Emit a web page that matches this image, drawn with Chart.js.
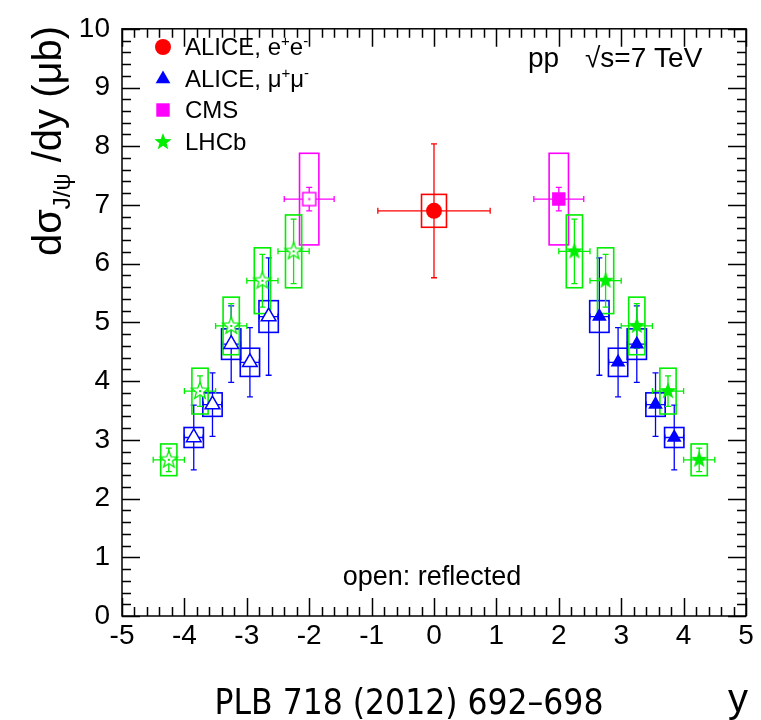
<!DOCTYPE html>
<html>
<head>
<meta charset="utf-8">
<script src="https://cdn.jsdelivr.net/npm/chart.js@4.4.0/dist/chart.umd.min.js"></script>
<style>
  html, body { margin: 0; padding: 0; background: #fff; }
  #wrap { width: 761px; height: 720px; }
</style>
</head>
<body>
<div id="wrap"><canvas id="chart" width="761" height="720"></canvas></div>
<script>
// ALICE e+e-, |y|<0.9
const eeY = [0];
const eeVal = [6.90];
const eeStat = [1.14];
const eeSyst = [0.28];
const eeHalfBin = [0.9];

// ALICE mu+mu-, forward
const mmY = [2.65, 2.95, 3.25, 3.55, 3.85];
const mmVal = [5.10, 4.32, 4.63, 3.60, 3.04];
const mmStat = [1.00, 0.59, 0.65, 0.54, 0.55];
const mmSyst = [0.27, 0.24, 0.26, 0.20, 0.17];
const mmHalfBin = [0.15, 0.15, 0.15, 0.15, 0.15];

// CMS
const cmsY = [2.0];
const cmsVal = [7.10];
const cmsStat = [0.20];
const cmsSyst = [0.78];
const cmsHalfBin = [0.4];

// LHCb
const lhcbY = [2.25, 2.75, 3.25, 3.75, 4.25];
const lhcbVal = [6.21, 5.71, 4.94, 3.83, 2.66];
const lhcbStat = [0.55, 0.45, 0.38, 0.26, 0.20];
const lhcbSyst = [0.62, 0.56, 0.49, 0.39, 0.27];
const lhcbHalfBin = [0.25, 0.25, 0.25, 0.25, 0.25];

// axis ticks
const xTicks = [-5, -4, -3, -2, -1, 0, 1, 2, 3, 4, 5];
const xTickLabels = ['-5', '-4', '-3', '-2', '-1', '0', '1', '2', '3', '4', '5'];
const yTicks = [0, 1, 2, 3, 4, 5, 6, 7, 8, 9, 10];
const yTickLabels = ['0', '1', '2', '3', '4', '5', '6', '7', '8', '9', '10'];

const FONT = "'Liberation Sans', Arial, sans-serif";

// little marker images (star and open square are not built into Chart.js)
function starImage(color, filled, R) {
    const c = document.createElement('canvas');
    const s = Math.ceil(2 * R + 4);
    c.width = s; c.height = s;
    const g = c.getContext('2d');
    const cx = s / 2, cy = s / 2;
    g.beginPath();
    for (let i = 0; i < 10; i++) {
        const r = i % 2 === 0 ? R : R * 0.42;
        const a = -Math.PI / 2 + i * Math.PI / 5;
        const px = cx + r * Math.cos(a), py = cy + r * Math.sin(a);
        if (i === 0) g.moveTo(px, py); else g.lineTo(px, py);
    }
    g.closePath();
    if (filled) {
        g.fillStyle = color; g.fill();
    } else {
        g.fillStyle = '#fff'; g.fill();
        g.strokeStyle = color; g.lineWidth = 1.3; g.stroke();
        g.fillStyle = color; g.fillRect(cx - 1, cy - 1, 2, 2);
    }
    return c;
}

function openSquareImage(color, half) {
    const c = document.createElement('canvas');
    const s = Math.ceil(2 * half + 4);
    c.width = s; c.height = s;
    const g = c.getContext('2d');
    const o = (s - 2 * half) / 2;
    g.fillStyle = '#fff';
    g.fillRect(o, o, 2 * half, 2 * half);
    g.strokeStyle = color; g.lineWidth = 1.5;
    g.strokeRect(o, o, 2 * half, 2 * half);
    g.fillStyle = color; g.fillRect(s / 2 - 1, s / 2 - 1, 2, 2);
    return c;
}

const series = [
    { label: 'ee', y: eeY, val: eeVal, stat: eeStat, syst: eeSyst, hb: eeHalfBin,
      color: '#ff0000', boxW: 0.2, reflect: false,
      marker: { pointStyle: 'circle', radius: 8 }, openMarker: null },
    { label: 'mm', y: mmY, val: mmVal, stat: mmStat, syst: mmSyst, hb: mmHalfBin,
      color: '#0000ff', boxW: 0.155, reflect: true,
      marker: { pointStyle: 'triangle', radius: 8.5 },
      openMarker: { pointStyle: 'triangle', radius: 8.5, open: true } },
    { label: 'cms', y: cmsY, val: cmsVal, stat: cmsStat, syst: cmsSyst, hb: cmsHalfBin,
      color: '#ff00ff', boxW: 0.155, reflect: true,
      marker: { pointStyle: 'rect', radius: 9.5 },
      openMarker: { pointStyle: openSquareImage('#ff00ff', 6.5), radius: 7 } },
    { label: 'lhcb', y: lhcbY, val: lhcbVal, stat: lhcbStat, syst: lhcbSyst, hb: lhcbHalfBin,
      color: '#00ee00', boxW: 0.13, reflect: true,
      marker: { pointStyle: starImage('#00ee00', true, 9), radius: 9 },
      openMarker: { pointStyle: starImage('#00ee00', false, 9), radius: 9 } }
];

const datasets = [];
series.forEach(s => {
    datasets.push({
        data: s.y.map((x, i) => ({ x: x, y: s.val[i] })),
        pointStyle: s.marker.pointStyle,
        pointRadius: s.marker.radius,
        backgroundColor: s.color,
        borderColor: s.color,
        pointBorderWidth: 0
    });
    if (s.reflect) {
        datasets.push({
            data: s.y.map((x, i) => ({ x: -x, y: s.val[i] })),
            pointStyle: s.openMarker.pointStyle,
            pointRadius: s.openMarker.radius,
            backgroundColor: '#ffffff',
            borderColor: s.color,
            pointBorderWidth: s.openMarker.open ? 1.5 : 0
        });
    }
});

// boxes (syst) and error bars (stat) under the markers
const errorBars = {
    id: 'errorBars',
    beforeDatasetsDraw(chart) {
        const ctx = chart.ctx;
        const xs = chart.scales.x, ys = chart.scales.y;
        ctx.save();
        series.forEach(s => {
            const sides = s.reflect ? [1, -1] : [1];
            sides.forEach(sign => {
                s.y.forEach((yy, i) => {
                    const x = sign * yy;
                    const v = s.val[i];
                    ctx.strokeStyle = s.color;
                    ctx.lineWidth = 1.6;
                    // systematic box
                    const bx0 = xs.getPixelForValue(x - s.boxW), bx1 = xs.getPixelForValue(x + s.boxW);
                    const by0 = ys.getPixelForValue(v + s.syst[i]), by1 = ys.getPixelForValue(v - s.syst[i]);
                    ctx.strokeRect(bx0, by0, bx1 - bx0, by1 - by0);
                    // stat error bars with caps
                    ctx.lineWidth = 1.3;
                    const px = xs.getPixelForValue(x), py = ys.getPixelForValue(v);
                    const t = ys.getPixelForValue(v + s.stat[i]), b = ys.getPixelForValue(v - s.stat[i]);
                    const l = xs.getPixelForValue(x - s.hb[i]), r = xs.getPixelForValue(x + s.hb[i]);
                    ctx.beginPath();
                    ctx.moveTo(px, t); ctx.lineTo(px, b);
                    ctx.moveTo(px - 3, t); ctx.lineTo(px + 3, t);
                    ctx.moveTo(px - 3, b); ctx.lineTo(px + 3, b);
                    ctx.moveTo(l, py); ctx.lineTo(r, py);
                    ctx.moveTo(l, py - 3); ctx.lineTo(l, py + 3);
                    ctx.moveTo(r, py - 3); ctx.lineTo(r, py + 3);
                    ctx.stroke();
                });
            });
        });
        ctx.restore();
    }
};

function drawRuns(ctx, runs, x, y, align) {
    let w = 0;
    runs.forEach(r => { ctx.font = r.size + 'px ' + (r.family || FONT); w += ctx.measureText(r.t).width; });
    let cx = align === 'center' ? x - w / 2 : (align === 'right' ? x - w : x);
    ctx.textAlign = 'left';
    ctx.textBaseline = 'alphabetic';
    runs.forEach(r => {
        ctx.font = r.size + 'px ' + (r.family || FONT);
        ctx.fillText(r.t, cx, y + (r.dy || 0));
        cx += ctx.measureText(r.t).width;
    });
}

// frame, inward ticks, legend, labels
const decorations = {
    id: 'decorations',
    afterDraw(chart) {
        const ctx = chart.ctx;
        const a = chart.chartArea;
        const xs = chart.scales.x, ys = chart.scales.y;
        ctx.save();
        ctx.strokeStyle = '#000';
        ctx.lineWidth = 1.5;
        ctx.strokeRect(a.left, a.top, a.right - a.left, a.bottom - a.top);
        ctx.beginPath();
        for (let v = -5; v <= 5.0001; v += 0.2) {
            const major = Math.abs(v - Math.round(v)) < 1e-6;
            const len = major ? 18 : 9;
            const px = Math.round(xs.getPixelForValue(v)) + 0.5;
            ctx.moveTo(px, a.bottom); ctx.lineTo(px, a.bottom - len);
            ctx.moveTo(px, a.top); ctx.lineTo(px, a.top + len);
        }
        for (let v = 0; v <= 10.0001; v += 0.2) {
            const major = Math.abs(v - Math.round(v)) < 1e-6;
            const len = major ? 18 : 9;
            const py = Math.round(ys.getPixelForValue(v)) + 0.5;
            ctx.moveTo(a.left, py); ctx.lineTo(a.left + len, py);
            ctx.moveTo(a.right, py); ctx.lineTo(a.right - len, py);
        }
        ctx.stroke();

        // legend
        ctx.fillStyle = '#000';
        const rows = [
            { s: series[0], y: 47, runs: [{ t: 'ALICE, e', size: 24 }, { t: '+', size: 15, dy: -9 }, { t: 'e', size: 24 }, { t: '-', size: 15, dy: -9 }] },
            { s: series[1], y: 79, runs: [{ t: 'ALICE, μ', size: 24 }, { t: '+', size: 15, dy: -9 }, { t: 'μ', size: 24 }, { t: '-', size: 15, dy: -9 }] },
            { s: series[2], y: 110, runs: [{ t: 'CMS', size: 24 }] },
            { s: series[3], y: 142, runs: [{ t: 'LHCb', size: 24 }] }
        ];
        rows.forEach(row => {
            ctx.fillStyle = row.s.color;
            ctx.strokeStyle = row.s.color;
            Chart.helpers.drawPoint(ctx, { pointStyle: row.s.marker.pointStyle, radius: row.s.marker.radius, borderWidth: 0 }, 163, row.y);
            ctx.fillStyle = '#000';
            drawRuns(ctx, row.runs, 185, row.y + 8, 'left');
        });

        // energy label
        drawRuns(ctx, [{ t: 'pp', size: 28 }], 528, 67, 'left');
        drawRuns(ctx, [{ t: '√s=7 TeV', size: 28 }], 585, 67, 'left');

        drawRuns(ctx, [{ t: 'open: reflected', size: 27 }], 432, 585, 'center');

        // y axis title
        ctx.save();
        ctx.translate(61, 141);
        ctx.rotate(-Math.PI / 2);
        drawRuns(ctx, [{ t: 'dσ', size: 40 }, { t: 'J/ψ', size: 24, dy: 9 }, { t: ' /dy (μb)', size: 40 }], 0, 0, 'center');
        ctx.restore();

        // x axis title
        drawRuns(ctx, [{ t: 'y', size: 40 }], 738, 712, 'center');

        // reference
        drawRuns(ctx, [{ t: 'PLB 718 (2012) 692–698', size: 35, family: "'DejaVu Sans Condensed', 'DejaVu Sans', sans-serif" }], 409, 714, 'center');
        ctx.restore();
    }
};

const ctx = document.getElementById('chart').getContext('2d');
const chart = new Chart(ctx, {
    type: 'scatter',
    data: { datasets: datasets },
    options: {
        responsive: false,
        animation: false,
        layout: { padding: { top: 16, right: 15, left: 0, bottom: 0 } },
        plugins: {
            legend: { display: false },
            tooltip: { enabled: false }
        },
        scales: {
            x: {
                type: 'linear',
                min: -5,
                max: 5,
                grid: { display: false, drawTicks: false },
                border: { display: false },
                afterBuildTicks: s => { s.ticks = xTicks.map(v => ({ value: v })); },
                afterFit: s => { s.height = 104; },
                ticks: {
                    font: { family: FONT, size: 28 },
                    color: '#000',
                    padding: 3,
                    maxRotation: 0,
                    autoSkip: false,
                    callback: (v, i) => xTickLabels[i]
                }
            },
            y: {
                type: 'linear',
                min: 0,
                max: 10,
                grid: { display: false, drawTicks: false },
                border: { display: false },
                afterBuildTicks: s => { s.ticks = yTicks.map(v => ({ value: v })); },
                afterFit: s => { s.width = 122; },
                ticks: {
                    font: { family: FONT, size: 28 },
                    color: '#000',
                    padding: 12,
                    autoSkip: false,
                    callback: (v, i) => yTickLabels[i]
                }
            }
        }
    },
    plugins: [errorBars, decorations]
});
</script>
</body>
</html>
